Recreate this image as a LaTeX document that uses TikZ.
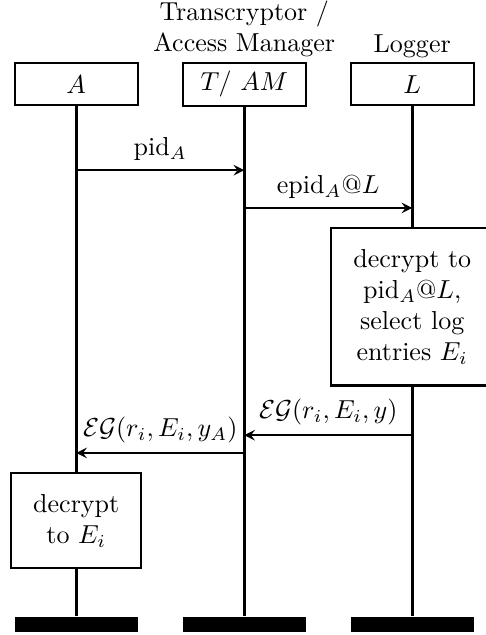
\documentclass[tikz,border=0pt]{standalone}
\usetikzlibrary{positioning}

\begin{document}
\begin{tikzpicture}[
  thick,
  inst/.style={
    draw,
    minimum width=1.66cm,
    minimum height=0.57cm
  },
  lifeend/.style={
    fill,
    minimum width=1.66cm,
    minimum height=0.2cm,
    inner sep=0pt
  },
  action/.style={
    draw,
    fill=white,
    align=center,
    inner xsep=8.5pt,
    inner ysep=8pt
  },
  msg/.style={
    -stealth
  }
]
  \useasboundingbox (0,0) rectangle (6.56,-8.58);
  % instances
  \node[inst] (A) at (1.03,-1.14) {$A$};
  \node[inst] (T) at (3.30,-1.14) {$T/\ AM$};
  \node[inst] (L) at (5.57,-1.14) {$L$};
  \node[above=-2pt of T,align=center] (Tname) {Transcryptor /\\Access Manager};
  \node[above=-2pt of L] (Lname) {Logger};
  % ends of the lifelines
  \node[lifeend] (endA) at (1.03,-8.44) {};
  \node[lifeend] (endT) at (3.30,-8.44) {};
  \node[lifeend] (endL) at (5.57,-8.44) {};
  \draw[very thick] (A) -- (endA);
  \draw[very thick] (T) -- (endT);
  \draw[very thick] (L) -- (endL);
  % messages
  \coordinate (m1) at (0,-2.30);
  \coordinate (m2) at (0,-2.81);
  \coordinate (m3) at (0,-5.88);
  \coordinate (m4) at (0,-6.12);
  \draw[msg] (A |- m1) -- (T |- m1)
    node[midway,above] {pid$_A$};
  \draw[msg] (T |- m2) -- (L |- m2)
    node[midway,above] {epid$_A$@$L$};
  \draw[msg] (L |- m3) -- (T |- m3)
    node[midway,above] {$\mathcal{EG}(r_i, E_i, y)$};
  \draw[msg] (T |- m4) -- (A |- m4)
    node[midway,above] {$\mathcal{EG}(r_i, E_i, y_A)$};
  % local steps
  \node[action,anchor=north] (decL) at (5.57,-3.07)
    {decrypt to\\pid$_A$@$L$,\\select log\\entries $E_i$};
  \node[action,anchor=north] (decA) at (1.03,-6.38)
    {decrypt\\to $E_i$};
\end{tikzpicture}
\end{document}
